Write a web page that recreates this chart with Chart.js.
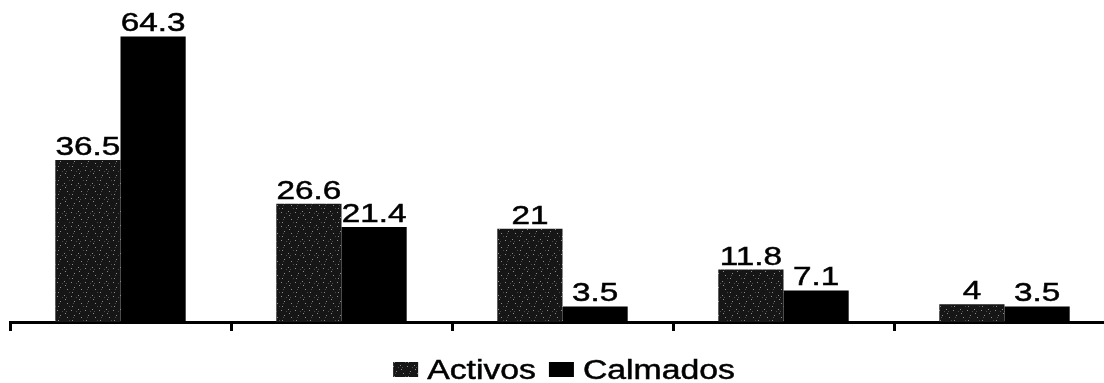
<!DOCTYPE html>
<html>
<head>
<meta charset="utf-8">
<script src="https://cdn.jsdelivr.net/npm/chart.js@4.4.1/dist/chart.umd.min.js"></script>
<style>
  html, body { margin: 0; padding: 0; background: #fff; overflow: hidden; }
  #wrap { position: relative; width: 1120px; height: 383px; }
</style>
</head>
<body>
<div id="wrap"><canvas id="c"></canvas></div>
<script>
// Group categories (no axis labels are printed under the groups)
const categories = ['1', '2', '3', '4', '5'];
const seriesNames = ['Activos', 'Calmados'];
const activos = [36.5, 26.6, 21, 11.8, 4];
const calmados = [64.3, 21.4, 3.5, 7.1, 3.5];

const FONT = '"Liberation Sans", Arial, Helvetica, sans-serif';
const STRETCH = 1.28; // the printed type is wide

// Speckled near-black fill used for the "Activos" bars
function speckle() {
  const p = document.createElement('canvas');
  p.width = 14; p.height = 14;
  const g = p.getContext('2d');
  g.fillStyle = '#161616';
  g.fillRect(0, 0, 14, 14);
  g.fillStyle = '#8c8c8c';
  [[1,2],[8,1],[4,7],[11,9],[2,12],[9,5]].forEach(([x, y]) => g.fillRect(x, y, 1, 1));
  g.fillStyle = '#4a4a4a';
  [[6,3],[13,12],[3,9],[10,3]].forEach(([x, y]) => g.fillRect(x, y, 1, 1));
  return g.createPattern(p, 'repeat');
}
const activosFill = speckle();
const calmadosFill = '#000';

// Draws wide type at (x, y)
function wideText(ctx, text, x, y, sx) {
  ctx.save();
  ctx.translate(x, y);
  ctx.scale(sx, 1);
  ctx.fillText(text, 0, 0);
  ctx.strokeText(text, 0, 0);
  ctx.restore();
}

// Value labels above each bar
const valueLabels = {
  id: 'valueLabels',
  afterDatasetsDraw(chart) {
    const ctx = chart.ctx;
    ctx.save();
    ctx.fillStyle = '#000';
    ctx.strokeStyle = '#000';
    ctx.lineWidth = 0.5;
    ctx.font = '26px ' + FONT;
    ctx.textAlign = 'center';
    ctx.textBaseline = 'alphabetic';
    chart.data.datasets.forEach((ds, i) => {
      chart.getDatasetMeta(i).data.forEach((bar, j) => {
        wideText(ctx, String(ds.data[j]), bar.x, bar.y - 5, STRETCH);
      });
    });
    ctx.restore();
  }
};

// Centered legend row under the axis
const bottomLegend = {
  id: 'bottomLegend',
  afterDraw(chart) {
    const ctx = chart.ctx;
    const boxW = 25, boxH = 15, boxGap = 9, itemGap = 13, sx = 1.25;
    const baseY = 379, centerX = 564;
    ctx.save();
    ctx.font = '27px ' + FONT;
    const items = chart.data.datasets.map(ds => ({
      text: ds.label,
      fill: ds.backgroundColor,
      w: ctx.measureText(ds.label).width * sx
    }));
    const total = items.reduce((s, it) => s + boxW + boxGap + it.w, 0) + itemGap * (items.length - 1);
    let x = centerX - total / 2;
    ctx.textAlign = 'left';
    ctx.textBaseline = 'alphabetic';
    ctx.strokeStyle = '#000';
    ctx.lineWidth = 0.5;
    items.forEach(it => {
      ctx.fillStyle = it.fill;
      ctx.fillRect(x, baseY - 17, boxW, boxH);
      x += boxW + boxGap;
      ctx.fillStyle = '#000';
      wideText(ctx, it.text, x, baseY, sx);
      x += it.w + itemGap;
    });
    ctx.restore();
  }
};

new Chart(document.getElementById('c'), {
  type: 'bar',
  data: {
    labels: categories,
    datasets: [
      { label: seriesNames[0], data: activos, backgroundColor: activosFill },
      { label: seriesNames[1], data: calmados, backgroundColor: calmadosFill }
    ]
  },
  options: {
    responsive: true,
    maintainAspectRatio: false,
    animation: false,
    categoryPercentage: 0.59,
    barPercentage: 1.0,
    layout: { padding: { left: 10, right: 5, top: 0, bottom: 0 } },
    plugins: {
      legend: { display: false },
      tooltip: { enabled: false }
    },
    scales: {
      x: {
        grid: {
          display: true,
          offset: true,
          drawOnChartArea: false,
          drawTicks: true,
          tickLength: 9,
          tickWidth: 3,
          tickColor: '#000'
        },
        border: { display: true, color: '#000', width: 3 },
        ticks: { display: false },
        afterFit(scale) { scale.height = 61; }
      },
      y: {
        display: false,
        min: 0,
        max: 72.5
      }
    }
  },
  plugins: [valueLabels, bottomLegend]
});
</script>
</body>
</html>
